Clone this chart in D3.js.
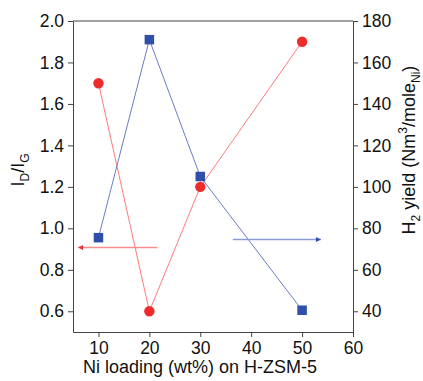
<!DOCTYPE html>
<html>
<head>
<meta charset="utf-8">
<script src="https://cdn.jsdelivr.net/npm/d3@7"></script>
<style>
  body { margin: 0; background: #fff; }
  text { font-family: "Liberation Sans", Arial, sans-serif; fill: #111; }
</style>
</head>
<body>
<svg id="chart"></svg>
<script>
// data
const loading = [10, 20, 30, 50];
const idig = [1.70, 0.60, 1.20, 1.90];          // red circles, left axis
const h2yield = [75.5, 171, 105, 40.5];          // blue squares, right axis
const xTicks = [10, 20, 30, 40, 50, 60];
const leftTicks = [0.6, 0.8, 1.0, 1.2, 1.4, 1.6, 1.8, 2.0];
const rightTicks = [40, 60, 80, 100, 120, 140, 160, 180];
// arrows pointing to the axis each series belongs to (data units)
const redArrow = {x1: 21.6, x2: 6, y: 0.907};
const blueArrow = {x1: 36.4, x2: 53.7, y: 74.6};

const width = 423, height = 381;
const margin = {top: 21, right: 70, bottom: 49, left: 73};

const svg = d3.select("#chart")
  .attr("width", width)
  .attr("height", height);

const x = d3.scaleLinear().domain([5, 60]).range([margin.left, width - margin.right]);
const yL = d3.scaleLinear().domain([0.5, 2.0]).range([height - margin.bottom, margin.top]);
const yR = d3.scaleLinear().domain([30, 180]).range([height - margin.bottom, margin.top]);

const axisColor = "#444";
const fontSize = "17.5px";

// frame top line
svg.append("line")
  .attr("x1", margin.left).attr("x2", width - margin.right)
  .attr("y1", margin.top).attr("y2", margin.top)
  .attr("stroke", axisColor);

function styleAxis(g) {
  g.selectAll("path, line").attr("stroke", axisColor);
  g.selectAll("text").attr("font-size", fontSize).attr("fill", "#111")
    .attr("font-family", "'Liberation Sans', Arial, sans-serif");
}

svg.append("g")
  .attr("transform", `translate(0,${height - margin.bottom})`)
  .call(d3.axisBottom(x).tickValues(xTicks).tickSize(5).tickSizeOuter(0).tickPadding(5))
  .call(styleAxis);

svg.append("g")
  .attr("transform", `translate(${margin.left},0)`)
  .call(d3.axisLeft(yL).tickValues(leftTicks).tickFormat(d3.format(".1f")).tickSize(5).tickSizeOuter(0).tickPadding(4))
  .call(styleAxis);

svg.append("g")
  .attr("transform", `translate(${width - margin.right},0)`)
  .call(d3.axisRight(yR).tickValues(rightTicks).tickSize(5).tickSizeOuter(0).tickPadding(4))
  .call(styleAxis);

// series lines
const redLine = d3.line().x((d, i) => x(loading[i])).y(d => yL(d));
const blueLine = d3.line().x((d, i) => x(loading[i])).y(d => yR(d));

svg.append("path")
  .attr("d", redLine(idig))
  .attr("fill", "none")
  .attr("stroke", "#ff7b7b")
  .attr("stroke-width", 1);

svg.append("path")
  .attr("d", blueLine(h2yield))
  .attr("fill", "none")
  .attr("stroke", "#6b7cc4")
  .attr("stroke-width", 1);

// arrows
const defs = svg.append("defs");
function marker(id, color) {
  defs.append("marker")
    .attr("id", id)
    .attr("viewBox", "0 0 10 10")
    .attr("refX", 10).attr("refY", 5)
    .attr("markerWidth", 8).attr("markerHeight", 5)
    .attr("markerUnits", "userSpaceOnUse")
    .attr("orient", "auto")
    .append("path")
    .attr("d", "M0,0L10,5L0,10z")
    .attr("fill", color);
}
marker("redHead", "#f03030");
marker("blueHead", "#2f4fa8");

svg.append("line")
  .attr("x1", x(redArrow.x1)).attr("x2", x(redArrow.x2))
  .attr("y1", yL(redArrow.y)).attr("y2", yL(redArrow.y))
  .attr("stroke", "#ff8c8c").attr("stroke-width", 1.5)
  .attr("marker-end", "url(#redHead)");

svg.append("line")
  .attr("x1", x(blueArrow.x1)).attr("x2", x(blueArrow.x2))
  .attr("y1", yR(blueArrow.y)).attr("y2", yR(blueArrow.y))
  .attr("stroke", "#8c9ad6").attr("stroke-width", 1.5)
  .attr("marker-end", "url(#blueHead)");

// markers
svg.selectAll("circle.pt")
  .data(idig)
  .join("circle")
  .attr("class", "pt")
  .attr("cx", (d, i) => x(loading[i]))
  .attr("cy", d => yL(d))
  .attr("r", 5.2)
  .attr("fill", "#ee2b2b");

const sq = 9.5;
svg.selectAll("rect.pt")
  .data(h2yield)
  .join("rect")
  .attr("class", "pt")
  .attr("x", (d, i) => x(loading[i]) - sq / 2)
  .attr("y", d => yR(d) - sq / 2)
  .attr("width", sq).attr("height", sq)
  .attr("fill", "#2f4fa8");

// axis titles
svg.append("text")
  .attr("x", 200)
  .attr("y", 373)
  .attr("text-anchor", "middle")
  .attr("font-size", "18px")
  .text("Ni loading (wt%) on H-ZSM-5");

const leftTitle = svg.append("text")
  .attr("transform", "translate(23.5,170) rotate(-90)")
  .attr("text-anchor", "middle")
  .attr("font-size", "18px");
leftTitle.append("tspan").text("I");
leftTitle.append("tspan").attr("font-size", "12px").attr("dy", 5).text("D");
leftTitle.append("tspan").attr("dy", -5).text("/I");
leftTitle.append("tspan").attr("font-size", "12px").attr("dy", 5).text("G");

const rightTitle = svg.append("text")
  .attr("transform", "translate(415,150) rotate(-90)")
  .attr("text-anchor", "middle")
  .attr("font-size", "18px");
rightTitle.append("tspan").text("H");
rightTitle.append("tspan").attr("font-size", "12px").attr("dy", 5).text("2");
rightTitle.append("tspan").attr("dy", -5).text(" yield (Nm");
rightTitle.append("tspan").attr("font-size", "12px").attr("dy", -8).text("3");
rightTitle.append("tspan").attr("dy", 8).text("/mole");
rightTitle.append("tspan").attr("font-size", "12px").attr("dy", 5).text("Ni");
rightTitle.append("tspan").attr("dy", -5).text(")");
</script>
</body>
</html>
